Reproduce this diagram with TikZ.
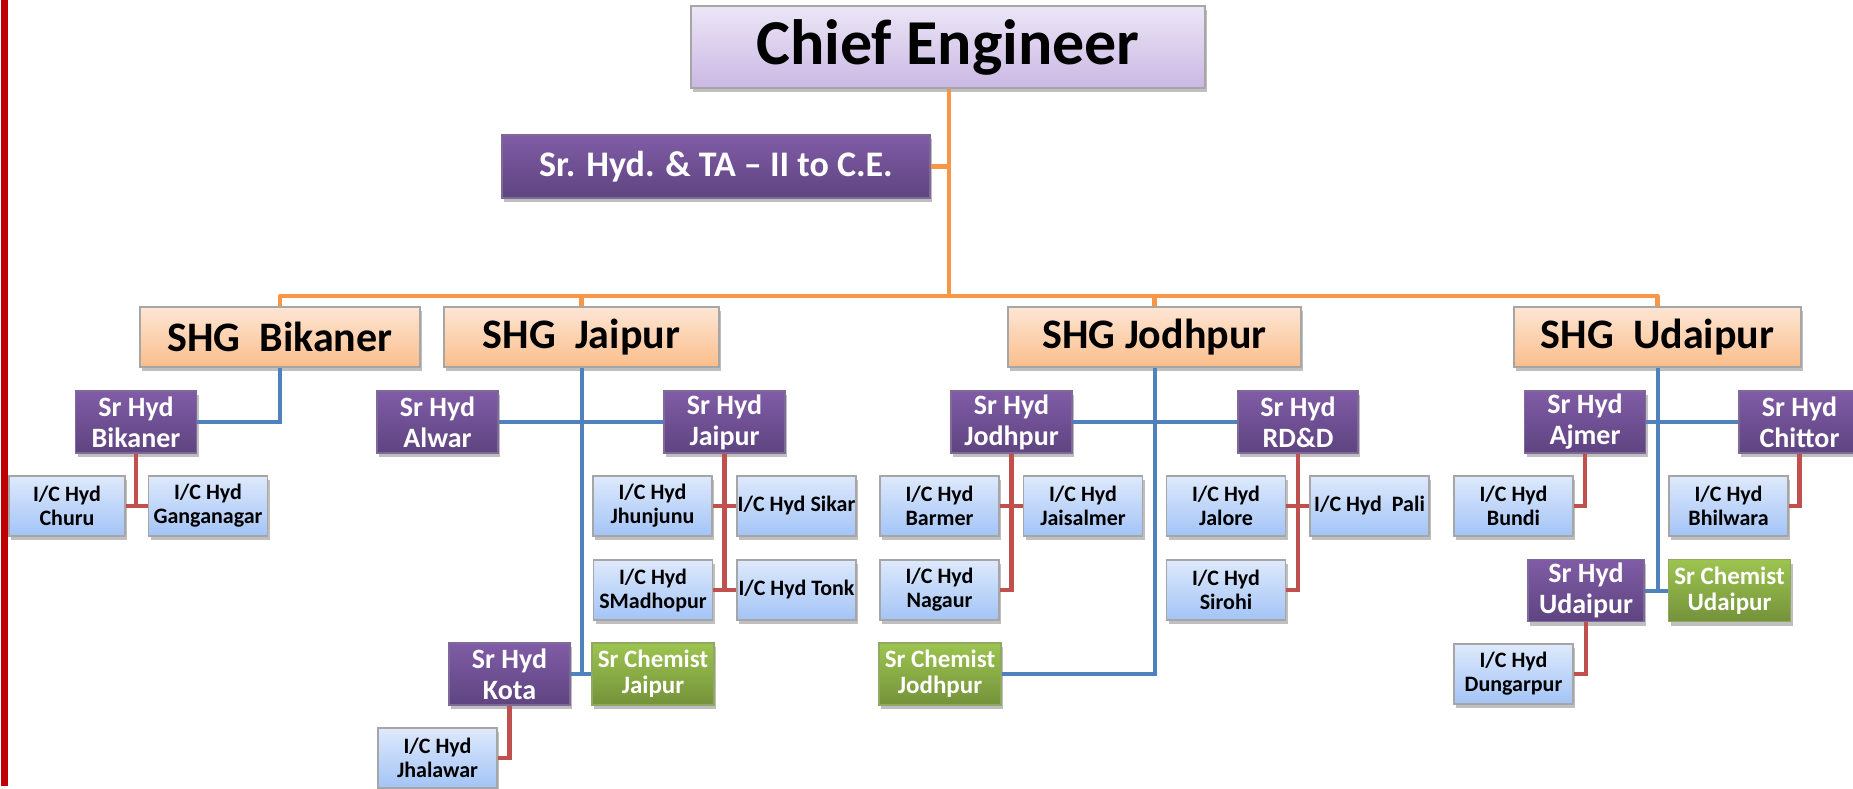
\documentclass[tikz,border=0pt]{standalone}
\usepackage{fontspec}
\setmainfont{Carlito}
\usepackage{xcolor}
\usepackage{tikz}
\usetikzlibrary{positioning, calc, shadows}
\definecolor{linkorange}{RGB}{247, 150, 70}
\definecolor{linkblue}{RGB}{79, 129, 189}
\definecolor{linkred}{RGB}{192, 80, 77}
\definecolor{sidebarred}{RGB}{192, 0, 0}
\definecolor{chieftop}{RGB}{236, 230, 246}
\definecolor{chiefbot}{RGB}{202, 184, 228}
\definecolor{purpletop}{RGB}{128, 92, 166}
\definecolor{purplebot}{RGB}{94, 68, 128}
\definecolor{peachtop}{RGB}{253, 230, 212}
\definecolor{peachbot}{RGB}{251, 190, 140}
\definecolor{icbluetop}{RGB}{222, 233, 252}
\definecolor{icbluebot}{RGB}{163, 196, 246}
\definecolor{greentop}{RGB}{157, 196, 80}
\definecolor{greenbot}{RGB}{116, 146, 58}

\begin{document}
\begin{tikzpicture}[x=0.5pt, y=-0.5pt,
    box/.style={draw=gray!70, line width=0.6pt, inner sep=0pt, align=center,
        drop shadow={shadow xshift=1pt, shadow yshift=-2pt, opacity=0.25, fill=black}},
    chiefbox/.style={box, top color=chieftop, bottom color=chiefbot,
        minimum width=257pt, minimum height=41pt, font=\fontsize{32}{36}\selectfont\bfseries},
    tabox/.style={box, draw=purplebot!80, top color=purpletop, bottom color=purplebot, text=white,
        minimum width=214pt, minimum height=31.5pt, font=\fontsize{18}{20}\selectfont\bfseries},
    shgbox/.style={box, top color=peachtop, bottom color=peachbot,
        minimum height=30pt, font=\fontsize{21}{24}\selectfont\bfseries},
    srhyd/.style={box, draw=purplebot!80, top color=purpletop, bottom color=purplebot, text=white,
        minimum width=60.5pt, minimum height=31pt, font=\fontsize{14}{15.5}\selectfont\bfseries},
    icbox/.style={box, top color=icbluetop, bottom color=icbluebot,
        minimum width=59.5pt, minimum height=30pt, font=\fontsize{11}{12}\selectfont\bfseries},
    chembox/.style={box, draw=greenbot!80, top color=greentop, bottom color=greenbot, text=white,
        minimum width=61pt, minimum height=31pt, font=\fontsize{12.5}{13}\selectfont\bfseries},
    orangelink/.style={linkorange, line width=2.3pt},
    bluelink/.style={linkblue, line width=2pt},
    redlink/.style={linkred, line width=2.3pt}]

    \useasboundingbox (0,0) rectangle (1853,788);
    \fill[sidebarred] (1,0) rectangle (8,786);

    % Top
    \node[chiefbox] (chief) at (948,47) {Chief Engineer};
    \node[tabox] (ta) at (716,166.5) {Sr. Hyd. \& TA -- II to C.E.};

    % SHG heads
    \node[shgbox, minimum width=140pt] (shgbik) at (280,337) {SHG\ \ Bikaner};
    \node[shgbox, minimum width=137.5pt] (shgjai) at (581.5,337) {SHG\ \ Jaipur};
    \node[shgbox, minimum width=146.5pt] (shgjod) at (1154.5,337) {SHG Jodhpur};
    \node[shgbox, minimum width=143.5pt] (shgudr) at (1657.5,337) {SHG\ \ Udaipur};

    % Bikaner
    \node[srhyd] (srbik) at (136,422) {Sr Hyd\\Bikaner};
    \node[icbox, minimum width=58pt] (churu) at (67,506) {I/C Hyd\\Churu};
    \node[icbox] (ganganagar) at (208,506) {I/C Hyd\\Ganganagar};

    % Jaipur
    \node[srhyd] (alwar) at (437.5,422) {Sr Hyd\\Alwar};
    \node[srhyd] (srjai) at (724.5,422) {Sr Hyd\\Jaipur};
    \node[icbox] (jhunjunu) at (652.5,506) {I/C Hyd\\Jhunjunu};
    \node[icbox] (sikar) at (796.5,506) {I/C Hyd Sikar};
    \node[icbox] (smadhopur) at (653,590) {I/C Hyd\\SMadhopur};
    \node[icbox] (tonk) at (796.5,590) {I/C Hyd Tonk};
    \node[srhyd] (kota) at (509.5,674) {Sr Hyd\\Kota};
    \node[chembox] (chemjai) at (653,674) {Sr Chemist\\Jaipur};
    \node[icbox] (jhalawar) at (437.5,758) {I/C Hyd\\Jhalawar};

    % Jodhpur
    \node[srhyd] (srjod) at (1011.5,422) {Sr Hyd\\Jodhpur};
    \node[srhyd, minimum width=60pt] (rdd) at (1298,422) {Sr Hyd\\RD\&D};
    \node[icbox] (barmer) at (939.5,506) {I/C Hyd\\Barmer};
    \node[icbox] (jaisalmer) at (1083,506) {I/C Hyd\\Jaisalmer};
    \node[icbox] (nagaur) at (939.5,590) {I/C Hyd\\Nagaur};
    \node[icbox] (jalore) at (1226,506) {I/C Hyd\\Jalore};
    \node[icbox] (pali) at (1369.5,506) {I/C Hyd\ \ Pali};
    \node[icbox] (sirohi) at (1226,590) {I/C Hyd\\Sirohi};
    \node[chembox] (chemjod) at (940,674) {Sr Chemist\\Jodhpur};

    % Udaipur
    \node[srhyd] (ajmer) at (1585,422) {Sr Hyd\\Ajmer};
    \node[srhyd] (chittor) at (1799.5,422) {Sr Hyd\\Chittor};
    \node[icbox] (bundi) at (1513.5,506) {I/C Hyd\\Bundi};
    \node[icbox] (bhilwara) at (1728.5,506) {I/C Hyd\\Bhilwara};
    \node[srhyd, minimum width=58pt] (srudr) at (1586,590.5) {Sr Hyd\\Udaipur};
    \node[chembox] (chemudr) at (1729.5,590.5) {Sr Chemist\\Udaipur};
    \node[icbox] (dungarpur) at (1513.5,674) {I/C Hyd\\Dungarpur};

    % Orange links
    \coordinate (bus) at (949,296);
    \draw[orangelink] (chief.south -| bus) -- (bus);
    \draw[orangelink] (ta.east) -- (ta.east -| bus);
    \draw[orangelink, line join=round] (shgbik.north) |- (bus) -| (shgudr.north);
    \draw[orangelink] (shgjai.north) -- (shgjai.north |- bus);
    \draw[orangelink] (shgjod.north) -- (shgjod.north |- bus);

    % Blue links
    \draw[bluelink] (shgbik.south) |- (srbik.east);
    \draw[bluelink] (shgjai.south) -- (shgjai.south |- kota.east);
    \draw[bluelink] (alwar.east) -- (srjai.west);
    \draw[bluelink] (kota.east) -- (chemjai.west);
    \draw[bluelink] (shgjod.south) |- (chemjod.east);
    \draw[bluelink] (srjod.east) -- (rdd.west);
    \draw[bluelink] (shgudr.south) -- (shgudr.south |- srudr.east);
    \draw[bluelink] (ajmer.east) -- (chittor.west);
    \draw[bluelink] (srudr.east) -- (chemudr.west);

    % Red links
    \draw[redlink] (srbik.south) -- (srbik.south |- churu.east);
    \draw[redlink] (churu.east) -- (ganganagar.west);
    \draw[redlink] (srjai.south) -- (srjai.south |- tonk.west);
    \draw[redlink] (jhunjunu.east) -- (sikar.west);
    \draw[redlink] (smadhopur.east) -- (tonk.west);
    \draw[redlink] (kota.south) |- (jhalawar.east);
    \draw[redlink] (srjod.south) |- (nagaur.east);
    \draw[redlink] (barmer.east) -- (jaisalmer.west);
    \draw[redlink] (rdd.south) |- (sirohi.east);
    \draw[redlink] (jalore.east) -- (pali.west);
    \draw[redlink] (ajmer.south) |- (bundi.east);
    \draw[redlink] (chittor.south) |- (bhilwara.east);
    \draw[redlink] (srudr.south) |- (dungarpur.east);
\end{tikzpicture}
\end{document}
